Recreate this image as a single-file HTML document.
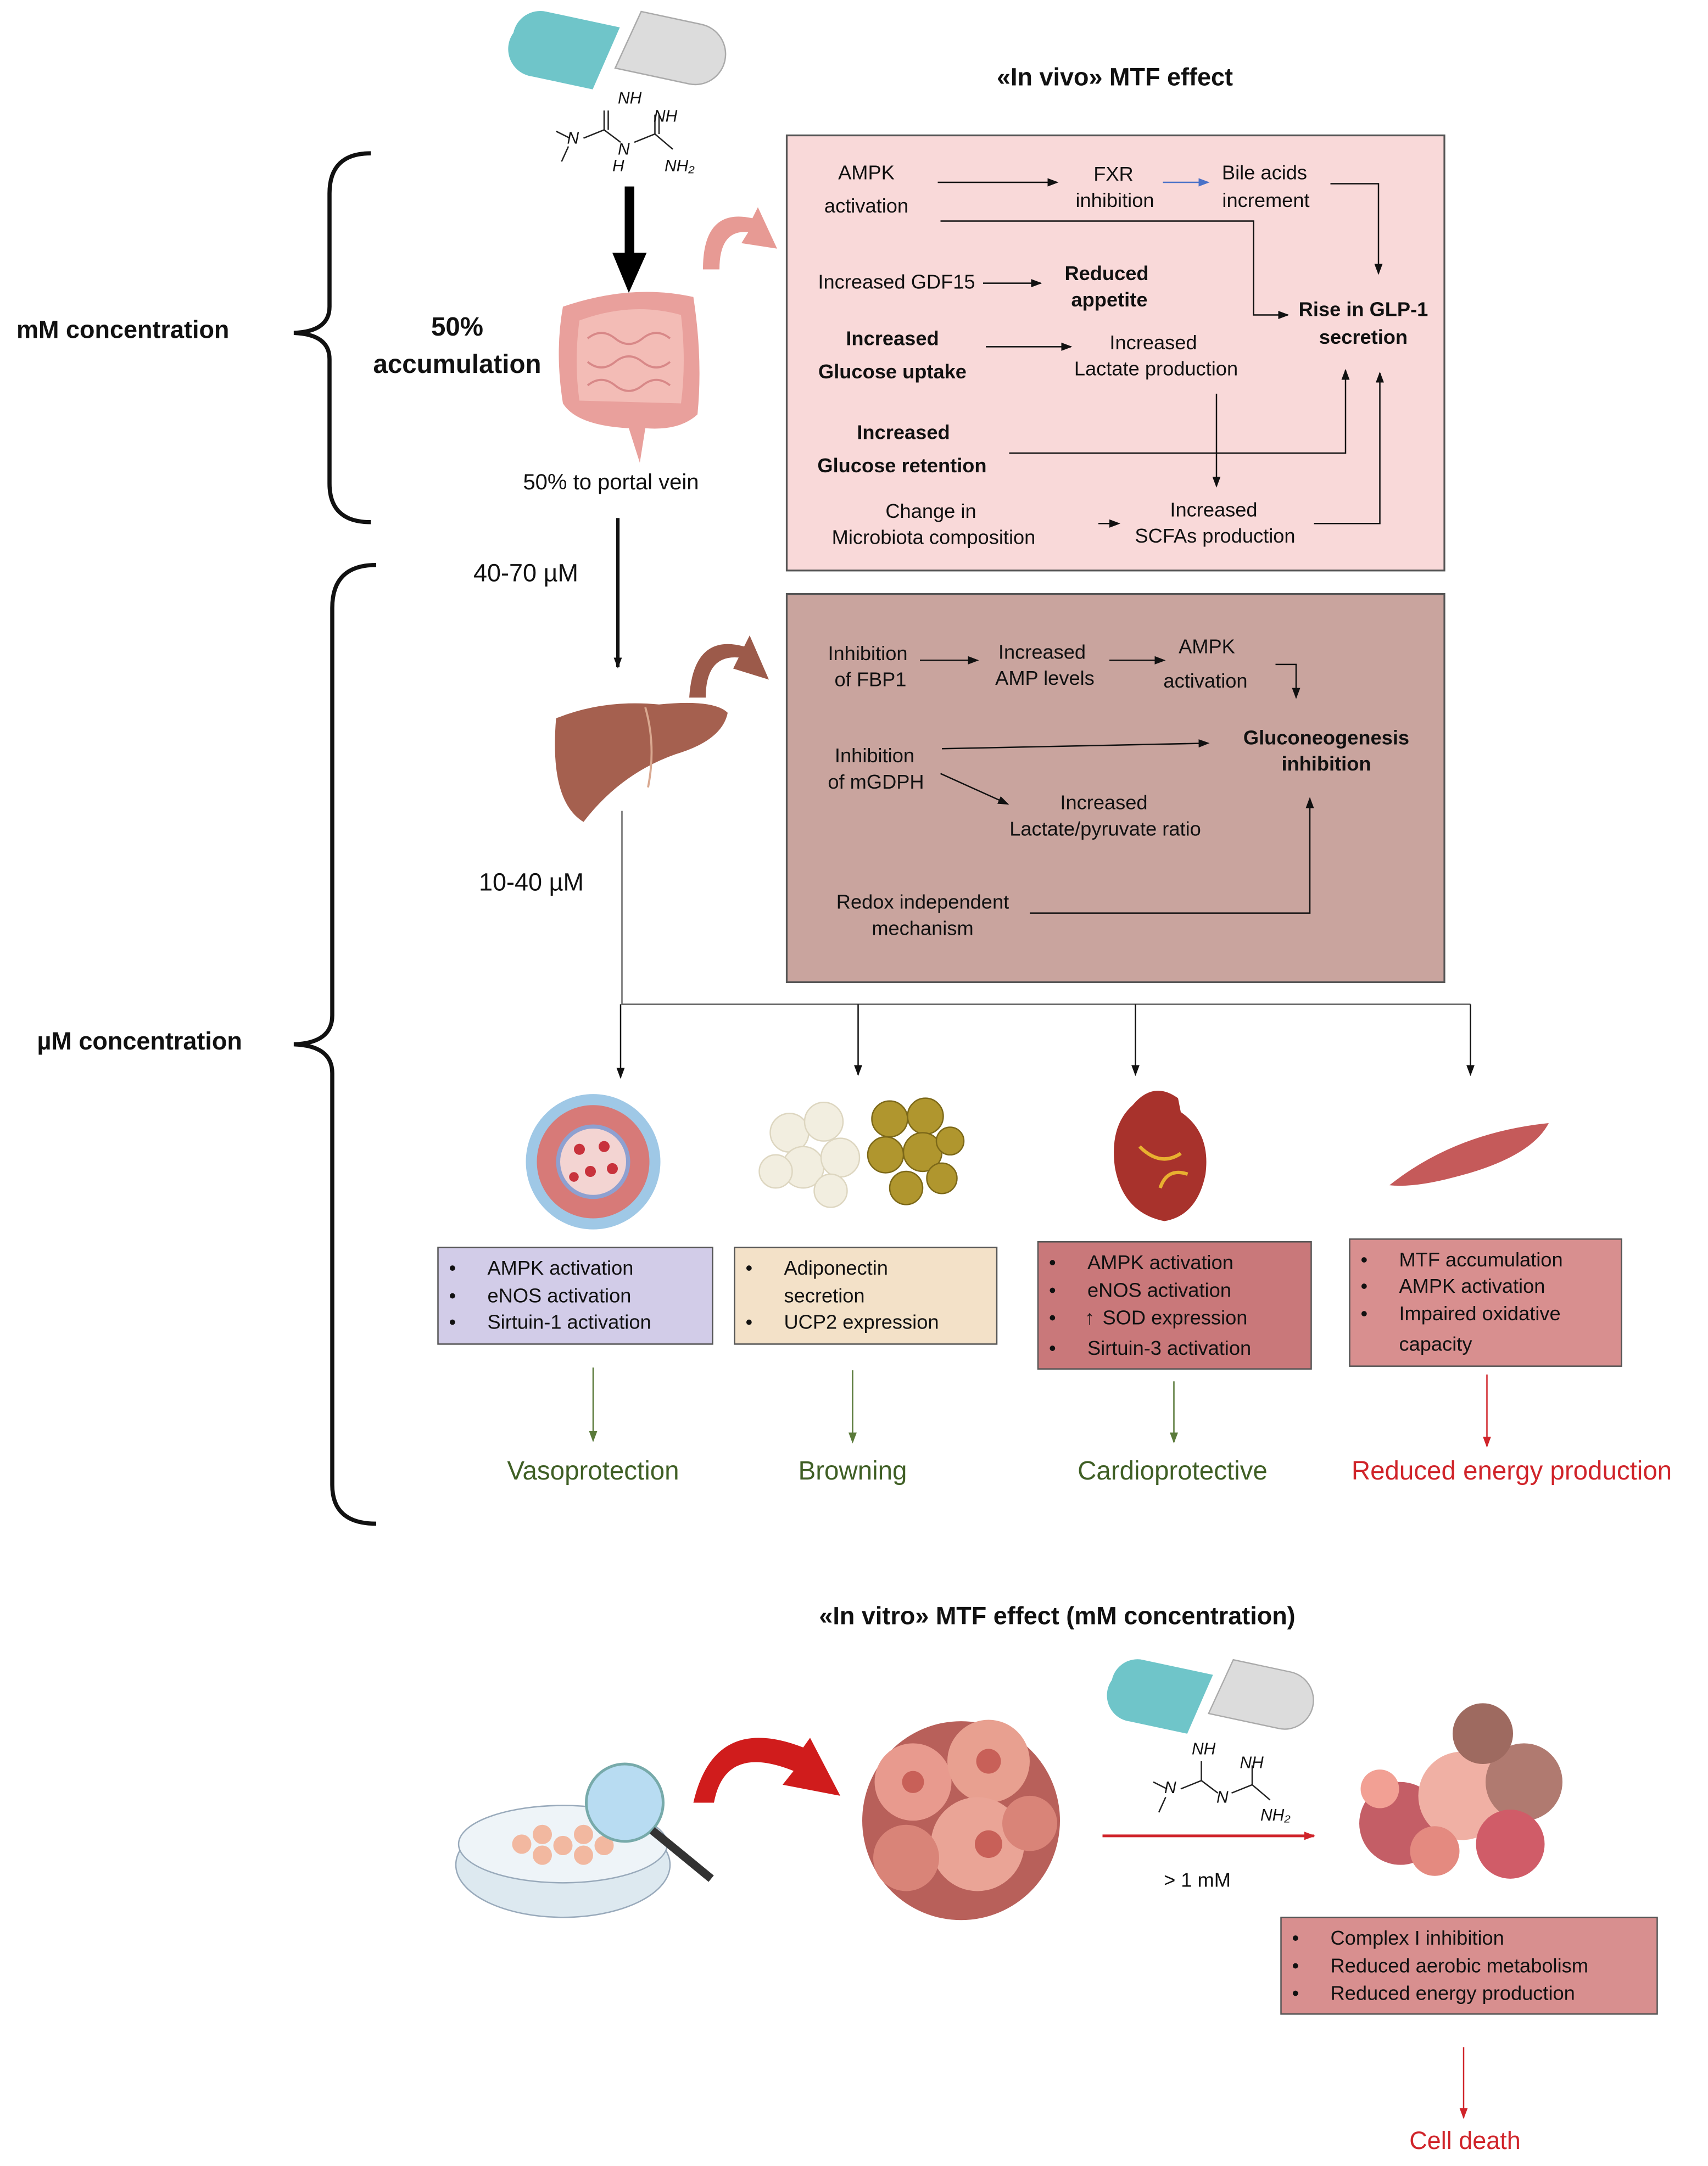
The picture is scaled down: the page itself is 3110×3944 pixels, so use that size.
<!DOCTYPE html>
<html><head><meta charset="utf-8"><style>
html,body{margin:0;padding:0;background:#fff}
svg{display:block}
text{font-family:"Liberation Sans",sans-serif;fill:#111}
.t{font-size:14.5px;text-anchor:middle;dominant-baseline:middle}
.b{font-weight:bold}
.l{font-size:14.5px;dominant-baseline:middle}
</style></head><body>
<svg width="3110" height="3944" viewBox="0 0 1244 1568" preserveAspectRatio="none" xmlns="http://www.w3.org/2000/svg">
<defs>
<marker id="a" markerWidth="8" markerHeight="8" refX="7" refY="4" orient="auto" markerUnits="userSpaceOnUse"><path d="M0,1 L8,4 L0,7z" fill="#111"/></marker>
<marker id="ab" markerWidth="8" markerHeight="8" refX="7" refY="4" orient="auto" markerUnits="userSpaceOnUse"><path d="M0,1 L8,4 L0,7z" fill="#4a72c8"/></marker>
<marker id="ag" markerWidth="8" markerHeight="8" refX="7" refY="4" orient="auto" markerUnits="userSpaceOnUse"><path d="M0,1 L8,4 L0,7z" fill="#5a7a3a"/></marker>
<marker id="ar" markerWidth="8" markerHeight="8" refX="7" refY="4" orient="auto" markerUnits="userSpaceOnUse"><path d="M0,1 L8,4 L0,7z" fill="#d0242a"/></marker>
<g id="pills">
<path d="M0,20 a20,20 0 0 1 20,-20 h55 l-10,48 h-45 a20,20 0 0 1 -20,-28z" fill="#6fc5c9" transform="rotate(12 40 25)"/>
<path d="M90,0 h45 a22,22 0 0 1 0,44 h-55z" fill="#dcdcdc" stroke="#aaa" transform="rotate(12 110 22)"/>
</g>
</defs>

<g transform="translate(372,12)"><use href="#pills"/></g>
<g stroke="#222" stroke-width="1" fill="none"><path d="M405,95 L415,100 M414,106 L409,117 M425,100 L440,94 L452,103 M440,94 V80 M443,94 V80 M462,103 L477,97 L490,108 M477,97 V83 M480,97 V83"/></g>
<text x="450" y="75" style="font-size:12px;font-style:italic">NH</text>
<text x="476" y="88" style="font-size:12px;font-style:italic">NH</text>
<text x="413" y="104" style="font-size:12px;font-style:italic">N</text>
<text x="450" y="112" style="font-size:12px;font-style:italic">N</text>
<text x="446" y="124" style="font-size:12px;font-style:italic">H</text>
<text x="484" y="124" style="font-size:12px;font-style:italic">NH₂</text>

<text x="812" y="57" class="t b" style="font-size:18px">«In vivo» MTF effect</text>

<g fill="none" stroke="#111" stroke-width="3">
<path d="M270,111 Q240,111 240,140 V222 Q240,240 214,241 Q240,242 240,260 V350 Q240,378 270,378"/>
<path d="M274,409 Q242,409 242,440 V735 Q242,755 214,756 Q242,757 242,777 V1075 Q242,1103 274,1103"/>
</g>
<text x="12" y="240" class="l b" style="font-size:18px">mM concentration</text>
<text x="27" y="755" class="l b" style="font-size:18px">µM concentration</text>

<text x="333" y="238" class="t b" style="font-size:19px">50%</text>
<text x="333" y="265" class="t b" style="font-size:19px">accumulation</text>

<rect x="455" y="135" width="7" height="50" fill="#000"/><path d="M446,183 L471,183 L458,212z" fill="#000"/>
<path d="M410,222 Q460,205 505,215 Q512,260 508,300 Q495,312 470,310 L466,335 L458,310 Q420,308 410,292 Q404,255 410,222z" fill="#e9a09c"/>
<path d="M422,232 Q460,218 496,228 Q500,262 496,292 L422,290 Q418,262 422,232z" fill="#f3bcb6"/>
<g fill="none" stroke="#d88888" stroke-width="1.5"><path d="M428,245 q10,-8 20,0 t20,0 t20,0 M428,262 q10,8 20,0 t20,0 t20,0 M428,279 q10,-8 20,0 t20,0 t20,0"/></g>
<text x="445" y="350" class="t" style="font-size:16px">50% to portal vein</text>
<path d="M512,195 Q512,150 548,158 L552,150 L566,180 L540,176 L545,168 Q524,166 524,195z" fill="#e79a94"/>

<rect x="573" y="98" width="479" height="315" fill="#f9d9d9" stroke="#555" stroke-width="1.3"/>
<g stroke="#111" stroke-width="1" fill="none">
<line x1="683" y1="132" x2="770" y2="132" marker-end="url(#a)"/>
<line x1="847" y1="132" x2="880" y2="132" stroke="#4a72c8" marker-end="url(#ab)"/>
<path d="M969,133 H1004 V198" marker-end="url(#a)"/>
<path d="M685,160 H913 V228 H938" marker-end="url(#a)"/>
<line x1="716" y1="205" x2="758" y2="205" marker-end="url(#a)"/>
<line x1="718" y1="251" x2="780" y2="251" marker-end="url(#a)"/>
<path d="M886,285 V352" marker-end="url(#a)"/>
<path d="M735,328 H980 V268" marker-end="url(#a)"/>
<line x1="800" y1="379" x2="815" y2="379" marker-end="url(#a)"/>
<path d="M957,379 H1005 V270" marker-end="url(#a)"/>
</g>
<text x="631" y="126" class="t">AMPK</text><text x="631" y="150" class="t">activation</text>
<text x="811" y="127" class="t">FXR</text><text x="812" y="146" class="t">inhibition</text>
<text x="921" y="126" class="t">Bile acids</text><text x="922" y="146" class="t">increment</text>
<text x="653" y="205" class="t">Increased GDF15</text>
<text x="806" y="199" class="t b">Reduced</text><text x="808" y="218" class="t b">appetite</text>
<text x="993" y="225" class="t b">Rise in GLP-1</text><text x="993" y="245" class="t b">secretion</text>
<text x="650" y="246" class="t b">Increased</text><text x="650" y="270" class="t b">Glucose uptake</text>
<text x="840" y="249" class="t">Increased</text><text x="842" y="268" class="t">Lactate production</text>
<text x="658" y="314" class="t b">Increased</text><text x="657" y="338" class="t b">Glucose retention</text>
<text x="678" y="371" class="t">Change in</text><text x="680" y="390" class="t">Microbiota composition</text>
<text x="884" y="370" class="t">Increased</text><text x="885" y="389" class="t">SCFAs production</text>

<line x1="450" y1="375" x2="450" y2="483" stroke="#111" stroke-width="2.5" marker-end="url(#a)"/>
<text x="383" y="416" class="t" style="font-size:18px">40-70 µM</text>
<text x="387" y="640" class="t" style="font-size:18px">10-40 µM</text>
<path d="M405,520 Q440,506 480,510 Q520,506 530,516 Q526,536 492,546 Q452,560 425,595 Q400,580 405,520z" fill="#a5604f"/>
<path d="M470,512 Q478,540 472,570" stroke="#d9a890" stroke-width="1.5" fill="none"/>
<path d="M502,505 Q505,458 542,468 L546,460 L560,492 L534,484 L538,476 Q514,474 514,505z" fill="#9c5a4a"/>

<rect x="573" y="430" width="479" height="281" fill="#c9a49e" stroke="#555" stroke-width="1.3"/>
<g stroke="#111" stroke-width="1" fill="none">
<line x1="670" y1="478" x2="712" y2="478" marker-end="url(#a)"/>
<line x1="808" y1="478" x2="848" y2="478" marker-end="url(#a)"/>
<path d="M929,481 H944 V505" marker-end="url(#a)"/>
<line x1="686" y1="542" x2="880" y2="538" marker-end="url(#a)"/>
<line x1="685" y1="560" x2="734" y2="582" marker-end="url(#a)"/>
<path d="M750,661 H954 V578" marker-end="url(#a)"/>
</g>
<text x="632" y="474" class="t">Inhibition</text><text x="634" y="493" class="t">of FBP1</text>
<text x="759" y="473" class="t">Increased</text><text x="761" y="492" class="t">AMP levels</text>
<text x="879" y="469" class="t">AMPK</text><text x="878" y="494" class="t">activation</text>
<text x="966" y="535" class="t b">Gluconeogenesis</text><text x="966" y="554" class="t b">inhibition</text>
<text x="637" y="548" class="t">Inhibition</text><text x="638" y="567" class="t">of mGDPH</text>
<text x="804" y="582" class="t">Increased</text><text x="805" y="601" class="t">Lactate/pyruvate ratio</text>
<text x="672" y="654" class="t">Redox independent</text><text x="672" y="673" class="t">mechanism</text>

<g stroke="#666" stroke-width="1" fill="none">
<path d="M453,587 V727 H1071"/>
<line x1="452" y1="727" x2="452" y2="780" stroke="#111" marker-end="url(#a)"/>
<line x1="625" y1="727" x2="625" y2="778" stroke="#111" marker-end="url(#a)"/>
<line x1="827" y1="727" x2="827" y2="778" stroke="#111" marker-end="url(#a)"/>
<line x1="1071" y1="727" x2="1071" y2="778" stroke="#111" marker-end="url(#a)"/>
</g>

<circle cx="432" cy="841" r="49" fill="#9fc8e6"/>
<circle cx="432" cy="841" r="41" fill="#d77a78"/>
<circle cx="432" cy="841" r="27" fill="#8ea0d0"/>
<circle cx="432" cy="841" r="24" fill="#f3d4d2"/>
<g fill="#c8323c"><circle cx="422" cy="832" r="4"/><circle cx="440" cy="830" r="4"/><circle cx="430" cy="848" r="4"/><circle cx="446" cy="846" r="4"/><circle cx="418" cy="852" r="3.5"/></g>
<g fill="#f2eee0" stroke="#ddd6c0"><circle cx="575" cy="820" r="14"/><circle cx="600" cy="812" r="14"/><circle cx="585" cy="845" r="15"/><circle cx="612" cy="838" r="14"/><circle cx="565" cy="848" r="12"/><circle cx="605" cy="862" r="12"/></g>
<g fill="#b0962e" stroke="#7c6818"><circle cx="648" cy="810" r="13"/><circle cx="674" cy="808" r="13"/><circle cx="645" cy="836" r="13"/><circle cx="672" cy="834" r="14"/><circle cx="692" cy="826" r="10"/><circle cx="660" cy="860" r="12"/><circle cx="686" cy="853" r="11"/></g>
<path d="M825,800 Q840,782 858,795 L860,805 Q882,820 878,850 Q872,880 848,884 Q818,878 812,845 Q808,815 825,800z" fill="#a8322c"/>
<path d="M830,830 Q845,845 860,835 M845,860 Q850,845 865,850" stroke="#e8b030" stroke-width="2.5" fill="none"/>
<path d="M1012,858 Q1060,820 1128,813 Q1115,838 1060,852 Q1030,860 1012,858z" fill="#c55a5a"/>

<rect x="319" y="903" width="200" height="70" fill="#d2cce8" stroke="#555"/>
<text x="327" y="919" class="l">•</text><text x="327" y="939" class="l">•</text><text x="327" y="958" class="l">•</text>
<text x="355" y="919" class="l">AMPK activation</text><text x="355" y="939" class="l">eNOS activation</text><text x="355" y="958" class="l">Sirtuin-1 activation</text>

<rect x="535" y="903" width="191" height="70" fill="#f3e1c8" stroke="#555"/>
<text x="543" y="919" class="l">•</text><text x="543" y="958" class="l">•</text>
<text x="571" y="919" class="l">Adiponectin</text><text x="571" y="939" class="l">secretion</text><text x="571" y="958" class="l">UCP2 expression</text>

<rect x="756" y="899" width="199" height="92" fill="#c9787a" stroke="#555"/>
<text x="764" y="915" class="l">•</text><text x="764" y="935" class="l">•</text><text x="764" y="955" class="l">•</text><text x="764" y="977" class="l">•</text>
<text x="792" y="915" class="l">AMPK activation</text><text x="792" y="935" class="l">eNOS activation</text><text x="790" y="955" class="l b">↑</text><text x="803" y="955" class="l">SOD expression</text><text x="792" y="977" class="l">Sirtuin-3 activation</text>

<rect x="983" y="897" width="198" height="92" fill="#d88f8f" stroke="#555"/>
<text x="991" y="913" class="l">•</text><text x="991" y="932" class="l">•</text><text x="991" y="952" class="l">•</text>
<text x="1019" y="913" class="l">MTF accumulation</text><text x="1019" y="932" class="l">AMPK activation</text><text x="1019" y="952" class="l">Impaired oxidative</text><text x="1019" y="974" class="l">capacity</text>

<g stroke-width="1" fill="none">
<line x1="432" y1="990" x2="432" y2="1043" stroke="#5a7a3a" marker-end="url(#ag)"/>
<line x1="621" y1="992" x2="621" y2="1044" stroke="#5a7a3a" marker-end="url(#ag)"/>
<line x1="855" y1="1000" x2="855" y2="1044" stroke="#5a7a3a" marker-end="url(#ag)"/>
<line x1="1083" y1="995" x2="1083" y2="1047" stroke="#d0242a" marker-end="url(#ar)"/>
</g>
<text x="432" y="1066" class="t" style="font-size:19px;fill:#3f5f25">Vasoprotection</text>
<text x="621" y="1066" class="t" style="font-size:19px;fill:#3f5f25">Browning</text>
<text x="854" y="1066" class="t" style="font-size:19px;fill:#3f5f25">Cardioprotective</text>
<text x="1101" y="1066" class="t" style="font-size:19px;fill:#d0242a">Reduced energy production</text>

<text x="770" y="1171" class="t b" style="font-size:18px">«In vitro» MTF effect (mM concentration)</text>
<ellipse cx="410" cy="1350" rx="78" ry="38" fill="#dde9f0" stroke="#9ab"/>
<ellipse cx="410" cy="1335" rx="76" ry="28" fill="#eef4f8" stroke="#9ab"/>
<g fill="#f2b8a0"><circle cx="380" cy="1335" r="7"/><circle cx="395" cy="1328" r="7"/><circle cx="410" cy="1336" r="7"/><circle cx="425" cy="1328" r="7"/><circle cx="440" cy="1336" r="7"/><circle cx="395" cy="1343" r="7"/><circle cx="425" cy="1343" r="7"/></g>
<circle cx="455" cy="1305" r="28" fill="#b8dcf2" stroke="#7aa" stroke-width="2"/>
<line x1="475" y1="1325" x2="518" y2="1360" stroke="#333" stroke-width="6"/>
<path d="M505,1305 Q520,1240 585,1265 L590,1258 L612,1300 L570,1292 L578,1282 Q528,1262 520,1305z" fill="#d01c1c"/>
<g>
<circle cx="700" cy="1318" r="72" fill="#b8605a"/>
<circle cx="665" cy="1290" r="28" fill="#e89a8e"/><circle cx="720" cy="1275" r="30" fill="#e8a090"/><circle cx="712" cy="1335" r="34" fill="#eaa496"/><circle cx="660" cy="1345" r="24" fill="#d98478"/><circle cx="750" cy="1320" r="20" fill="#d98478"/>
<circle cx="720" cy="1335" r="10" fill="#c86058"/><circle cx="720" cy="1275" r="9" fill="#c86058"/><circle cx="665" cy="1290" r="8" fill="#c86058"/>
</g>
<g transform="translate(808,1205) scale(0.95)"><use href="#pills"/></g>
<g stroke="#222" stroke-width="1" fill="none"><path d="M840,1290 L850,1295 M849,1301 L844,1312 M860,1295 L875,1289 L887,1298 M875,1289 V1275 M897,1298 L912,1292 L925,1303 M912,1292 V1278"/></g>
<text x="868" y="1270" style="font-size:12px;font-style:italic">NH</text>
<text x="903" y="1280" style="font-size:12px;font-style:italic">NH</text>
<text x="848" y="1298" style="font-size:12px;font-style:italic">N</text>
<text x="886" y="1305" style="font-size:12px;font-style:italic">N</text>
<text x="918" y="1318" style="font-size:12px;font-style:italic">NH₂</text>
<line x1="803" y1="1329" x2="957" y2="1329" stroke="#d0242a" stroke-width="2" marker-end="url(#ar)"/>
<text x="872" y="1362" class="t">&gt; 1 mM</text>
<g>
<circle cx="1020" cy="1320" r="30" fill="#c45e66"/><circle cx="1065" cy="1300" r="32" fill="#f0b0a4"/><circle cx="1110" cy="1290" r="28" fill="#b07a70"/><circle cx="1080" cy="1255" r="22" fill="#9e6a60"/><circle cx="1100" cy="1335" r="25" fill="#d05c68"/><circle cx="1045" cy="1340" r="18" fill="#e48a80"/><circle cx="1005" cy="1295" r="14" fill="#f2a094"/>
</g>
<rect x="933" y="1388" width="274" height="70" fill="#d88f8f" stroke="#555"/>
<text x="941" y="1404" class="l">•</text><text x="941" y="1424" class="l">•</text><text x="941" y="1444" class="l">•</text>
<text x="969" y="1404" class="l">Complex I inhibition</text><text x="969" y="1424" class="l">Reduced aerobic metabolism</text><text x="969" y="1444" class="l">Reduced energy production</text>
<line x1="1066" y1="1482" x2="1066" y2="1533" stroke="#d0242a" stroke-width="1" marker-end="url(#ar)"/>
<text x="1067" y="1551" class="t" style="font-size:18px;fill:#d0242a">Cell death</text>
</svg>
</body></html>
